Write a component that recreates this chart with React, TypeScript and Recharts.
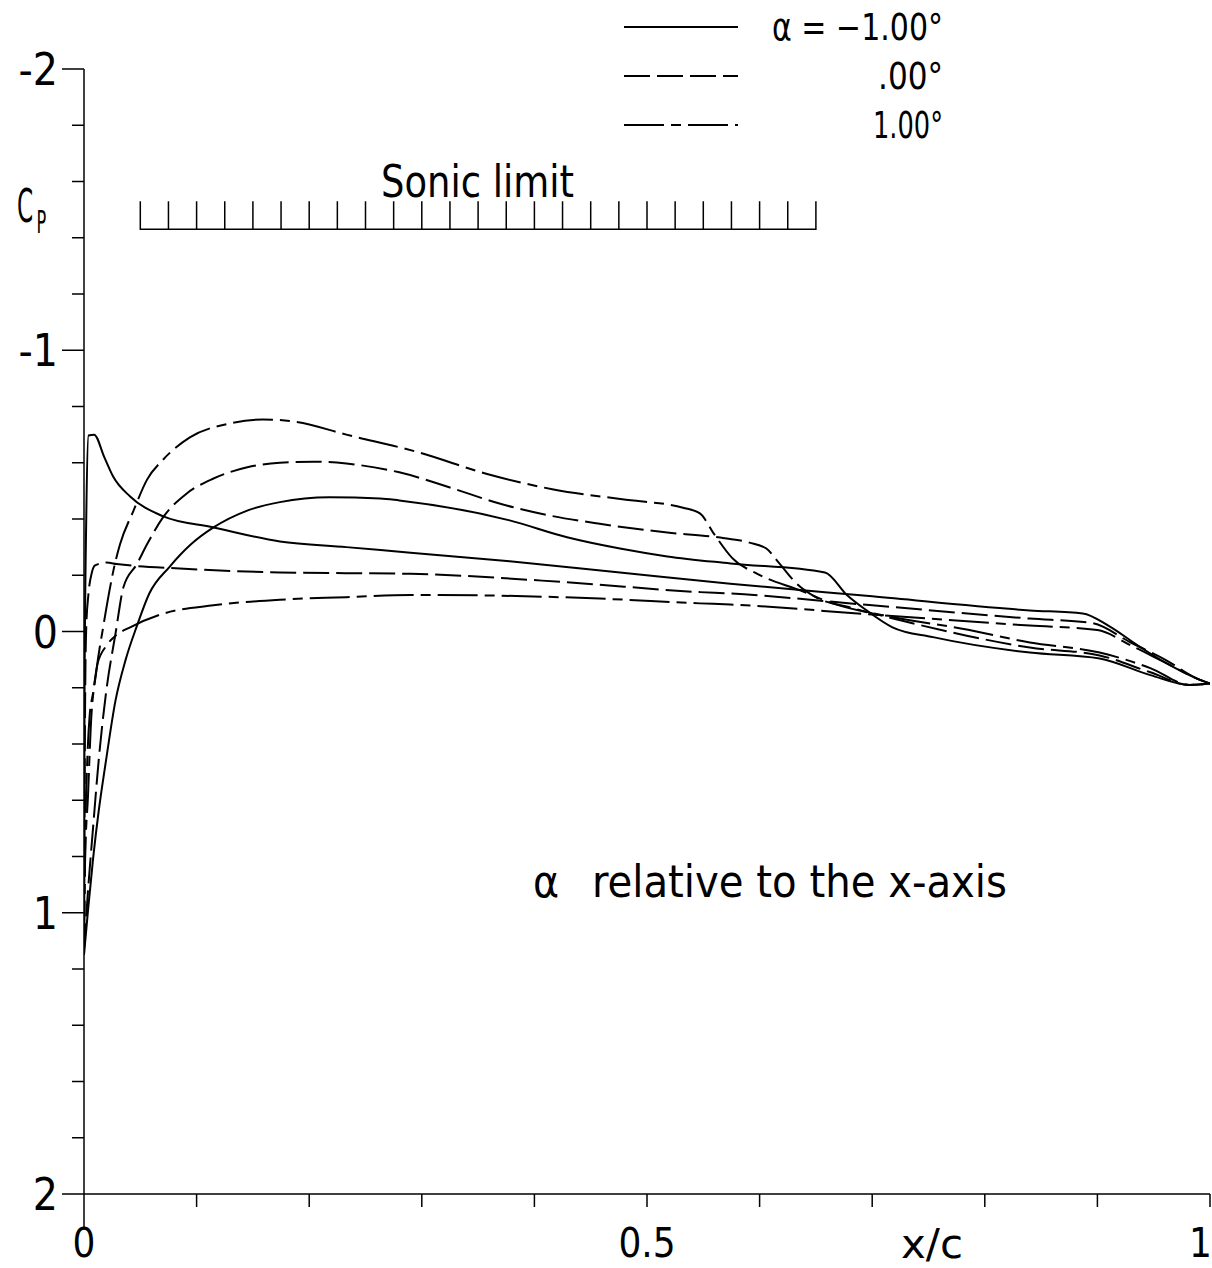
import { Line, LineChart, XAxis, YAxis } from "recharts";

const INK = "#000";
const FONT = "'DejaVu Sans Condensed', 'DejaVu Sans', sans-serif";
const DASHED = "26 7";
const DASH_DOT = "40 7 10 7";

// ── Cp distributions, [x/c, Cp] ──────────────────────────────────────────────
const upperM1: [number, number][] = [
  [0, 1.15], [0.0036, 0.99], [0.008, 0.81], [0.013, 0.64], [0.0195, 0.46], [0.028, 0.245],
  [0.037, 0.1], [0.047, -0.02], [0.058, -0.135], [0.076, -0.23], [0.095, -0.31], [0.115, -0.37],
  [0.145, -0.43], [0.174, -0.46], [0.218, -0.477], [0.263, -0.473], [0.28, -0.466], [0.378, -0.395],
  [0.429, -0.335], [0.476, -0.295], [0.518, -0.267], [0.574, -0.242], [0.658, -0.21], [0.678, -0.128],
  [0.695, -0.075], [0.718, -0.015], [0.754, 0.02], [0.84, 0.075], [0.902, 0.096], [0.947, 0.155],
  [0.982, 0.19], [1, 0.185],
];
const lowerM1: [number, number][] = [
  [0, 1.15], [0.0005, 0.2], [0.002, -0.4], [0.004, -0.697], [0.009, -0.7], [0.018, -0.62],
  [0.026, -0.55], [0.041, -0.48], [0.07, -0.41], [0.115, -0.37], [0.174, -0.32], [0.233, -0.3],
  [0.29, -0.28], [0.378, -0.25], [0.476, -0.21], [0.574, -0.17], [0.7, -0.125], [0.84, -0.075],
  [0.887, -0.064], [0.91, -0.02], [0.936, 0.05], [0.96, 0.11], [0.99, 0.17], [1, 0.185],
];
const upper0: [number, number][] = [
  [0, 1.13], [0.0036, 0.92], [0.008, 0.7], [0.013, 0.46], [0.0195, 0.22], [0.028, 0.007],
  [0.035, -0.157], [0.047, -0.24], [0.056, -0.31], [0.07, -0.405], [0.091, -0.49], [0.115, -0.544],
  [0.145, -0.584], [0.174, -0.6], [0.204, -0.604], [0.233, -0.597], [0.28, -0.566], [0.325, -0.512],
  [0.369, -0.455], [0.414, -0.412], [0.458, -0.383], [0.518, -0.352], [0.565, -0.334], [0.591, -0.316],
  [0.606, -0.295], [0.617, -0.245], [0.633, -0.17], [0.651, -0.12], [0.68, -0.086], [0.725, -0.04],
  [0.784, 0.015], [0.84, 0.057], [0.902, 0.085], [0.947, 0.145], [0.982, 0.19], [1, 0.185],
];
const lower0: [number, number][] = [
  [0, 1.13], [0.0005, 0.6], [0.001, 0.25], [0.002, -0.015], [0.004, -0.135], [0.007, -0.21],
  [0.0098, -0.235], [0.02, -0.245], [0.029, -0.24], [0.085, -0.224], [0.174, -0.21], [0.29, -0.205],
  [0.429, -0.175], [0.547, -0.14], [0.574, -0.135], [0.7, -0.093], [0.84, -0.046], [0.895, -0.03],
  [0.93, 0.04], [0.96, 0.1], [0.99, 0.17], [1, 0.185],
];
const upper1: [number, number][] = [
  [0, 1.1], [0.001, 0.81], [0.0036, 0.58], [0.006, 0.34], [0.011, 0.14], [0.017, -0.015],
  [0.028, -0.25], [0.032, -0.31], [0.044, -0.43], [0.056, -0.54], [0.07, -0.61], [0.094, -0.69],
  [0.13, -0.74], [0.159, -0.754], [0.189, -0.745], [0.233, -0.7], [0.298, -0.636], [0.358, -0.56],
  [0.417, -0.505], [0.478, -0.47], [0.532, -0.44], [0.547, -0.42], [0.559, -0.35], [0.576, -0.26],
  [0.598, -0.205], [0.636, -0.146], [0.665, -0.1], [0.72, -0.05], [0.78, -0.01], [0.84, 0.039],
  [0.902, 0.075], [0.947, 0.13], [0.982, 0.19], [1, 0.185],
];
const lower1: [number, number][] = [
  [0, 1.1], [0.001, 0.75], [0.003, 0.45], [0.005, 0.3], [0.008, 0.22], [0.012, 0.115],
  [0.02, 0.05], [0.028, 0.015], [0.041, -0.015], [0.07, -0.063], [0.115, -0.093], [0.174, -0.113],
  [0.233, -0.122], [0.29, -0.13], [0.36, -0.128], [0.458, -0.117], [0.547, -0.1], [0.574, -0.096],
  [0.7, -0.06], [0.84, -0.021], [0.9, -0.005], [0.93, 0.05], [0.96, 0.11], [0.99, 0.17], [1, 0.185],
];

// sonic limit marker: Cp* line with ticks between x/c = 0.05 and 0.65
const SONIC_CP = -1.43;
const SONIC_TICK_TOP = -1.53;
const SONIC_X = [
  0.05, 0.075, 0.1, 0.125, 0.15, 0.175, 0.2, 0.225, 0.25, 0.275, 0.3, 0.325, 0.35,
  0.375, 0.4, 0.425, 0.45, 0.475, 0.5, 0.525, 0.55, 0.575, 0.6, 0.625, 0.65,
];

const X_TICKS = [0, 0.1, 0.2, 0.3, 0.4, 0.5, 0.6, 0.7, 0.8, 0.9, 1];
const X_LABELS: Record<string, string> = { "0": "0", "0.5": "0.5", "1": "1" };
const Y_TICKS = [
  -2, -1.8, -1.6, -1.4, -1.2, -1, -0.8, -0.6, -0.4, -0.2, 0, 0.2, 0.4, 0.6, 0.8, 1, 1.2, 1.4, 1.6, 1.8, 2,
];

const LEGEND = [
  { label: "α = −1.00°", dash: undefined, w: 171 },
  { label: ".00°", dash: DASHED, w: 65 },
  { label: "1.00°", dash: DASH_DOT, w: 70 },
];

const pts = (pairs: [number, number][]) => pairs.map(([x, cp]) => ({ x, cp }));
const sonicPts = SONIC_X.flatMap((x) => [
  { x, cp: SONIC_CP },
  { x, cp: SONIC_TICK_TOP },
  { x, cp: SONIC_CP },
]);

const SERIES = [
  { key: "um1", data: upperM1, dash: undefined },
  { key: "lm1", data: lowerM1, dash: undefined },
  { key: "u0", data: upper0, dash: DASHED },
  { key: "l0", data: lower0, dash: DASHED },
  { key: "u1", data: upper1, dash: DASH_DOT },
  { key: "l1", data: lower1, dash: DASH_DOT },
];

function YTick({ x, y, payload }: any) {
  const v = payload.value as number;
  const major = Number.isInteger(v);
  return (
    <g>
      <line x1={x - (major ? 22 : 12)} x2={x} y1={y} y2={y} stroke={INK} strokeWidth={1.5} />
      {major && (
        <text x={x - 26} y={y + 16} textAnchor="end" fontSize={44} fontFamily={FONT} fill={INK}>
          {v < 0 ? `-${-v}` : String(v)}
        </text>
      )}
    </g>
  );
}

function XTick({ x, y, payload }: any) {
  const v = payload.value as number;
  const label = X_LABELS[String(v)];
  const last = v === 1;
  return (
    <g>
      <line x1={x} x2={x} y1={y} y2={y + (v === 0 ? 33 : 13)} stroke={INK} strokeWidth={1.5} />
      {label && (
        <text
          x={last ? x + 2 : x}
          y={y + 63}
          textAnchor={last ? "end" : "middle"}
          fontSize={40}
          fontFamily={FONT}
          fill={INK}
        >
          {label}
        </text>
      )}
    </g>
  );
}

export default function App() {
  return (
    <div style={{ position: "absolute", left: 0, top: 0, width: 1212, height: 1268, background: "#fff" }}>
      <LineChart width={1212} height={1268} margin={{ top: 69, right: 2, bottom: 0, left: 0 }}>
        <XAxis
          dataKey="x"
          type="number"
          domain={[0, 1]}
          ticks={X_TICKS}
          interval={0}
          height={74}
          tickLine={false}
          tickSize={0}
          tickMargin={0}
          axisLine={{ stroke: INK, strokeWidth: 1.5 }}
          tick={<XTick />}
          allowDataOverflow
        />
        <YAxis
          type="number"
          domain={[-2, 2]}
          reversed
          ticks={Y_TICKS}
          interval={0}
          width={84}
          tickLine={false}
          tickSize={0}
          tickMargin={0}
          axisLine={{ stroke: INK, strokeWidth: 1.5 }}
          tick={<YTick />}
          allowDataOverflow
        />
        <Line
          data={sonicPts}
          dataKey="cp"
          type="linear"
          stroke={INK}
          strokeWidth={1.5}
          dot={false}
          activeDot={false}
          isAnimationActive={false}
        />
        {SERIES.map((s) => (
          <Line
            key={s.key}
            data={pts(s.data)}
            dataKey="cp"
            type="monotone"
            stroke={INK}
            strokeWidth={2}
            strokeDasharray={s.dash}
            dot={false}
            activeDot={false}
            isAnimationActive={false}
          />
        ))}
      </LineChart>

      {/* annotations + legend */}
      <svg
        width={1212}
        height={1268}
        style={{ position: "absolute", left: 0, top: 0, pointerEvents: "none" }}
        fontFamily={FONT}
        fill={INK}
      >
        {LEGEND.map((l, i) => (
          <g key={l.label}>
            <line x1={624} x2={738} y1={27 + i * 49} y2={27 + i * 49} stroke={INK} strokeWidth={2} strokeDasharray={l.dash} />
            <text x={943} y={40 + i * 49} textAnchor="end" fontSize={37} textLength={l.w} lengthAdjust="spacingAndGlyphs">
              {l.label}
            </text>
          </g>
        ))}
        <text x={381} y={197} fontSize={45} textLength={193} lengthAdjust="spacingAndGlyphs">
          Sonic limit
        </text>
        {/* C_P, squeezed to the narrow plotter lettering */}
        <text transform="translate(17 222) scale(0.56 1)" fontSize={46}>
          C
          <tspan dx={6} dy={11} fontSize={32}>
            P
          </tspan>
        </text>
        <text x={533} y={897} fontSize={44}>α</text>
        <text x={592} y={897} fontSize={44} textLength={415} lengthAdjust="spacingAndGlyphs">
          relative to the x-axis
        </text>
        <text x={901} y={1258} fontSize={40} textLength={62} lengthAdjust="spacingAndGlyphs">
          x/c
        </text>
      </svg>
    </div>
  );
}
